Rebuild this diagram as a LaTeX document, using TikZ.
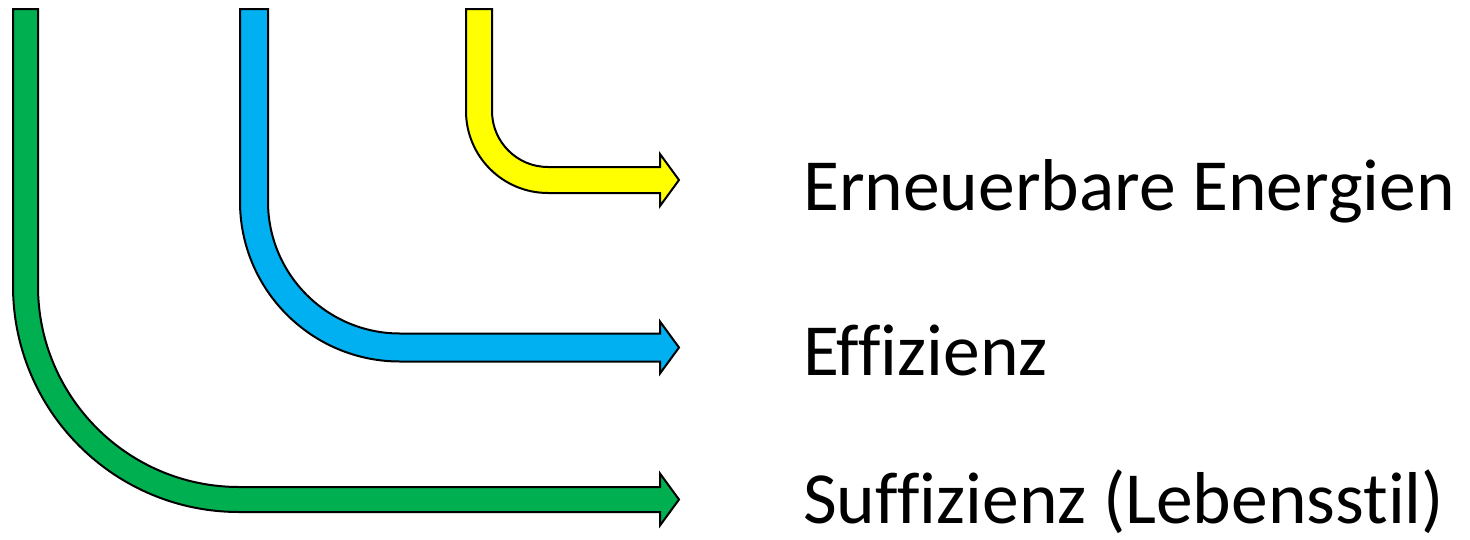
\documentclass[tikz,border=0pt]{standalone}
\usepackage{fontspec}
\setmainfont{Carlito}[Ligatures=NoCommon]
\definecolor{arrowyellow}{HTML}{FFFF00}
\definecolor{arrowblue}{HTML}{00B0F0}
\definecolor{arrowgreen}{HTML}{00B050}
% Bent block arrow: #1 left edge, #2 shaft width, #3 top, #4 centre line of the
% horizontal part, #5 outer bend radius, #6 fill colour
\newcommand{\bentarrow}[6]{%
  \pgfmathsetmacro\xa{#1}%
  \pgfmathsetmacro\xb{#1+#2}%
  \pgfmathsetmacro\ya{#4-#2/2}%
  \pgfmathsetmacro\yb{#4+#2/2}%
  \pgfmathsetmacro\ro{#5}%
  \pgfmathsetmacro\ri{#5-#2}%
  \pgfmathsetmacro\ko{0.5523*\ro}%
  \pgfmathsetmacro\ki{0.5523*\ri}%
  \draw[blockarrow, fill=#6]
    (\xa,#3) -- (\xb,#3) -- (\xb,\ya-\ri)
    .. controls (\xb,\ya-\ri+\ki) and (\xb+\ri-\ki,\ya) .. (\xb+\ri,\ya)
    -- (660,\ya) -- (660,#4-26) -- (679,#4) -- (660,#4+26) -- (660,\yb)
    -- (\xa+\ro,\yb)
    .. controls (\xa+\ro-\ko,\yb) and (\xa,\yb-\ro+\ko) .. (\xa,\yb-\ro)
    -- cycle;
}
\begin{document}
\begin{tikzpicture}[x=1pt,y=-1pt,
  blockarrow/.style={draw=black, line width=2pt, line join=miter},
  caption/.style={anchor=base west, inner sep=0pt, font=\fontsize{73.5}{88}\selectfont}]
\useasboundingbox (0,0) rectangle (1470,539);
\bentarrow{466}{26}{9}{180}{82}{arrowyellow}
\bentarrow{240}{28}{9}{347.5}{160}{arrowblue}
\bentarrow{13}{25}{9}{499.5}{226}{arrowgreen}
\node[caption] (ee) at (803,210) {Erneuerbare Energien};
\node[caption] (eff) at (803,375) {Effizienz};
\node[caption] (suff) at (803,523) {Suffizienz (Lebensstil)};
\end{tikzpicture}
\end{document}
